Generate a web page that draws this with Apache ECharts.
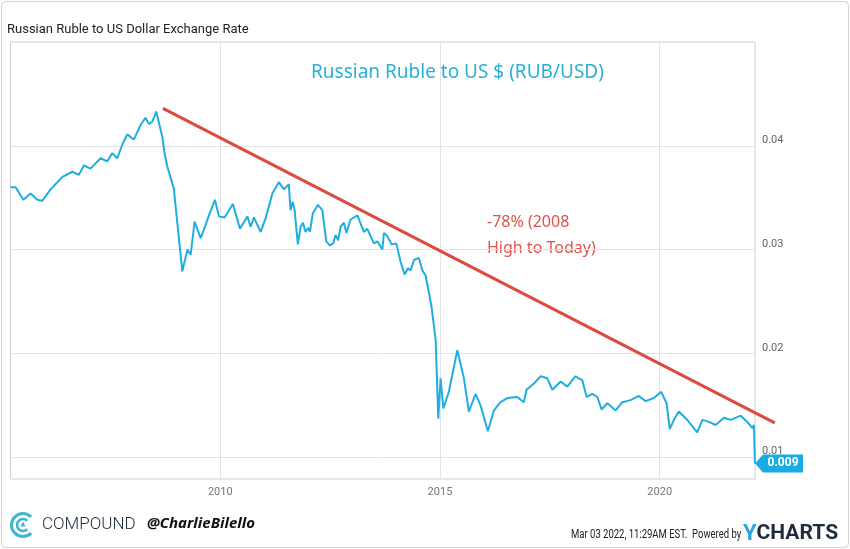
<!DOCTYPE html>
<html><head><meta charset="utf-8">
<script src="https://cdn.jsdelivr.net/npm/echarts@6/dist/echarts.min.js"></script>
<style>html,body{margin:0;padding:0;background:#fff}#c{width:850px;height:549px}</style>
</head><body><div id="c"></div>
<script>
// RUB/USD exchange rate
const dates = [
'2005-03-25','2005-05-07','2005-07-09','2005-09-08','2005-11-03','2005-12-14',
'2006-02-21','2006-05-30','2006-08-21','2006-10-14','2006-11-25',
'2007-01-19','2007-04-13','2007-06-07','2007-07-19','2007-08-29','2007-10-10','2007-11-20',
'2008-01-14','2008-03-10','2008-04-20','2008-05-18','2008-06-15','2008-07-18','2008-09-06','2008-09-25','2008-10-18','2008-12-11',
'2009-01-09','2009-02-20','2009-04-03','2009-04-30','2009-06-02','2009-07-22','2009-08-18','2009-09-29','2009-11-18','2009-12-21',
'2010-02-06','2010-04-16','2010-06-14','2010-08-14','2010-09-10','2010-10-08','2010-12-03',
'2011-01-13','2011-03-10','2011-05-03','2011-06-14','2011-07-25','2011-08-08','2011-08-27','2011-09-11','2011-10-08','2011-10-31','2011-11-19','2011-12-11',
'2012-01-03','2012-01-16','2012-02-10','2012-03-22','2012-04-28','2012-05-31','2012-06-30','2012-07-28','2012-08-16','2012-09-07','2012-09-27','2012-10-24','2012-11-15','2012-12-19',
'2013-02-14','2013-04-09','2013-05-07','2013-07-01','2013-07-30','2013-09-09','2013-09-22','2013-10-20','2013-11-25',
'2014-01-03','2014-02-08','2014-03-13','2014-04-10','2014-05-02','2014-05-30','2014-07-10','2014-08-07','2014-09-04','2014-10-23','2014-11-26','2014-12-18',
'2015-01-06','2015-01-29','2015-03-16','2015-05-25','2015-07-19','2015-08-29','2015-10-24','2015-12-04',
'2016-02-03','2016-03-24','2016-05-18','2016-07-13','2016-10-04','2016-11-28','2016-12-20',
'2017-02-20','2017-04-17','2017-06-11','2017-07-23','2017-09-30','2017-11-24',
'2018-02-01','2018-03-29','2018-05-04','2018-06-20','2018-08-01','2018-09-05','2018-10-23','2018-12-31',
'2019-02-24','2019-05-04','2019-07-12','2019-09-06','2019-11-14',
'2020-01-14','2020-02-27','2020-03-25','2020-04-28','2020-06-08','2020-08-17','2020-11-08','2020-12-21',
'2021-02-14','2021-04-10','2021-06-18','2021-08-13','2021-11-04','2021-12-29',
'2022-02-09','2022-02-22','2022-03-03'
];
const rates = [
0.0360,0.0360,0.0348,0.0354,0.0348,0.0347,
0.0358,0.0370,0.0375,0.0372,0.0381,
0.0378,0.0388,0.0385,0.0393,0.0388,0.0401,0.0411,
0.0406,0.0420,0.0427,0.0421,0.0423,0.0433,0.0409,0.0393,0.0380,0.0359,
0.0326,0.0279,0.0300,0.0295,0.0327,0.0311,0.0319,0.0333,0.0348,0.0332,
0.0331,0.0344,0.0320,0.0332,0.0322,0.0331,0.0317,
0.0330,0.0354,0.0365,0.0358,0.0363,0.0338,0.0346,0.0338,0.0305,0.0322,0.0326,0.0317,
0.0321,0.0317,0.0335,0.0343,0.0338,0.0308,0.0304,0.0306,0.0314,0.0309,0.0322,0.0326,0.0316,0.0329,
0.0333,0.0317,0.0320,0.0306,0.0308,0.0300,0.0316,0.0313,0.0305,
0.0306,0.0288,0.0276,0.0282,0.0280,0.0290,0.0292,0.0280,0.0275,0.0245,0.0213,0.0137,
0.0176,0.0147,0.0163,0.0203,0.0176,0.0144,0.0161,0.0150,
0.0125,0.0145,0.0153,0.0157,0.0158,0.0153,0.0165,
0.0171,0.0178,0.0176,0.0165,0.0173,0.0168,
0.0178,0.0174,0.0158,0.0161,0.0158,0.0146,0.0152,0.0145,
0.0153,0.0155,0.0159,0.0154,0.0157,
0.0163,0.0152,0.0127,0.0136,0.0144,0.0136,0.0124,0.0136,
0.0134,0.0131,0.0138,0.0136,0.0140,0.0134,
0.0128,0.0131,0.0094
];
// red trend annotation (2008 high to today)
const trendDates = ['2008-09-12','2022-08-14'];
const trendValues = [0.0436, 0.0133];
// axis ticks
const yTicks = [0.01, 0.02, 0.03, 0.04];
const xTickYears = [2010, 2015, 2020];
const xMin = '2005-03-25', xMax = '2022-03-03';
const yMin = 0.0079, yMax = 0.050;

const chart = echarts.init(document.getElementById('c'), null, {renderer: 'canvas'});
const ts = d => new Date(d + 'T00:00:00Z').getTime();
const xTicks = xTickYears.map(y => Date.UTC(y, 0, 1));
const last = dates.length - 1;
const cond = "'Roboto', sans-serif";

chart.setOption({
  animation: false,
  backgroundColor: '#fff',
  title: {
    text: 'Russian Ruble to US Dollar Exchange Rate',
    left: 2, top: 18,
    textStyle: {fontFamily: 'Roboto', fontSize: 13, fontWeight: 'normal', color: '#222'}
  },
  grid: {left: 10.5, right: 95, top: 42, bottom: 70, show: true, borderColor: '#cfcfcf', borderWidth: 1},
  xAxis: {
    type: 'value', min: ts(xMin), max: ts(xMax),
    axisLine: {show: false}, axisTick: {show: false, customValues: xTicks},
    axisLabel: {customValues: xTicks, formatter: v => String(new Date(v).getUTCFullYear()),
      color: '#777', fontSize: 11, fontFamily: cond, margin: 8},
    splitLine: {show: true, lineStyle: {color: '#e3e3e3', width: 1}}
  },
  yAxis: {
    type: 'value', position: 'right', min: yMin, max: yMax,
    axisLine: {show: false}, axisTick: {show: false, customValues: yTicks},
    axisLabel: {customValues: yTicks, formatter: v => v.toFixed(2), color: '#666', fontSize: 11,
      fontFamily: 'Roboto', verticalAlign: 'bottom', margin: 7},
    splitLine: {show: true, lineStyle: {color: '#e3e3e3', width: 1}}
  },
  series: [
    {
      type: 'line', name: 'RUB/USD', showSymbol: false, z: 3,
      data: dates.map((d, i) => [ts(d), rates[i]]),
      lineStyle: {color: '#1eaee0', width: 2}, itemStyle: {color: '#1eaee0'},
      markPoint: {
        symbol: 'path://M0,9 L8,0 L48,0 L48,18 L8,18 Z',
        symbolSize: [48, 18], symbolOffset: [24, 0], silent: true,
        itemStyle: {color: '#18ace2'},
        label: {show: true, position: 'inside', offset: [4, 0], color: '#fff', fontWeight: 'bold',
          fontSize: 12, fontFamily: 'Roboto', formatter: p => p.value.toFixed(3)},
        data: [{coord: [ts(dates[last]), rates[last]], value: rates[last]}]
      }
    }
  ],
  graphic: [
    {id: 'frame', type: 'rect', silent: true, shape: {x: 1.5, y: 1.5, width: 847, height: 546, r: 4},
      style: {fill: 'none', stroke: '#d2d2d2', lineWidth: 1}},
    {id: 't1', type: 'text', left: 311, top: 63, style: {text: 'Russian Ruble to US $ (RUB/USD)',
      fill: '#29b0da', font: "19px 'Noto Sans', sans-serif"}},
    {id: 't2', type: 'text', left: 487, top: 214, style: {text: '-78% (2008',
      fill: '#e0524a', font: "16px 'Noto Sans', sans-serif"}},
    {id: 't3', type: 'text', left: 487, top: 240, style: {text: 'High to Today)',
      fill: '#e0524a', font: "16px 'Noto Sans', sans-serif"}},
    {id: 'a1', type: 'arc', silent: true, shape: {cx: 23, cy: 525, r: 11.5, startAngle: Math.PI / 4, endAngle: Math.PI * 7 / 4, clockwise: true},
      style: {stroke: '#3db6cf', lineWidth: 3, fill: 'none'}},
    {id: 'a2', type: 'arc', silent: true, shape: {cx: 23, cy: 525, r: 6, startAngle: Math.PI / 4, endAngle: Math.PI * 7 / 4, clockwise: true},
      style: {stroke: '#3db6cf', lineWidth: 2.5, fill: 'none'}},
    {id: 'a3', type: 'polygon', silent: true, shape: {points: [[23, 521.5], [25.5, 526.5], [20.5, 526.5]]},
      style: {fill: '#3db6cf'}},
    {id: 'f1', type: 'text', left: 42, top: 516, style: {text: 'COMPOUND', fill: '#1b2838',
      font: "300 17px 'Roboto', sans-serif"}},
    {id: 'f2', type: 'text', left: 147, top: 516, style: {text: '@CharlieBilello', fill: '#111',
      font: "italic bold 15px 'Noto Sans', sans-serif"}},
    {id: 'f3', type: 'text', x: 571, y: 528, scaleX: 0.76, style: {text: 'Mar 03 2022, 11:29AM EST.  Powered by', fill: '#222',
      font: "12.5px 'Roboto', sans-serif"}},
    {id: 'f4', type: 'text', left: 743, top: 523, style: {text: '{y|Y}{c|CHARTS}',
      rich: {y: {fill: '#2aa7df', font: "bold 22px 'Roboto', sans-serif"},
             c: {fill: '#1e2b3c', font: "bold 21px 'Roboto', sans-serif"}}}}
  ]
});

// trend line drawn through the chart's own scales (extends past the plot edge, as in the reference)
const p0 = chart.convertToPixel({gridIndex: 0}, [ts(trendDates[0]), trendValues[0]]);
const p1 = chart.convertToPixel({gridIndex: 0}, [ts(trendDates[1]), trendValues[1]]);
chart.setOption({graphic: [{id: 'trend', type: 'line', silent: true, z: 10,
  shape: {x1: p0[0], y1: p0[1], x2: p1[0], y2: p1[1]},
  style: {stroke: '#dc4b3e', lineWidth: 3}}]});
</script>
</body></html>
